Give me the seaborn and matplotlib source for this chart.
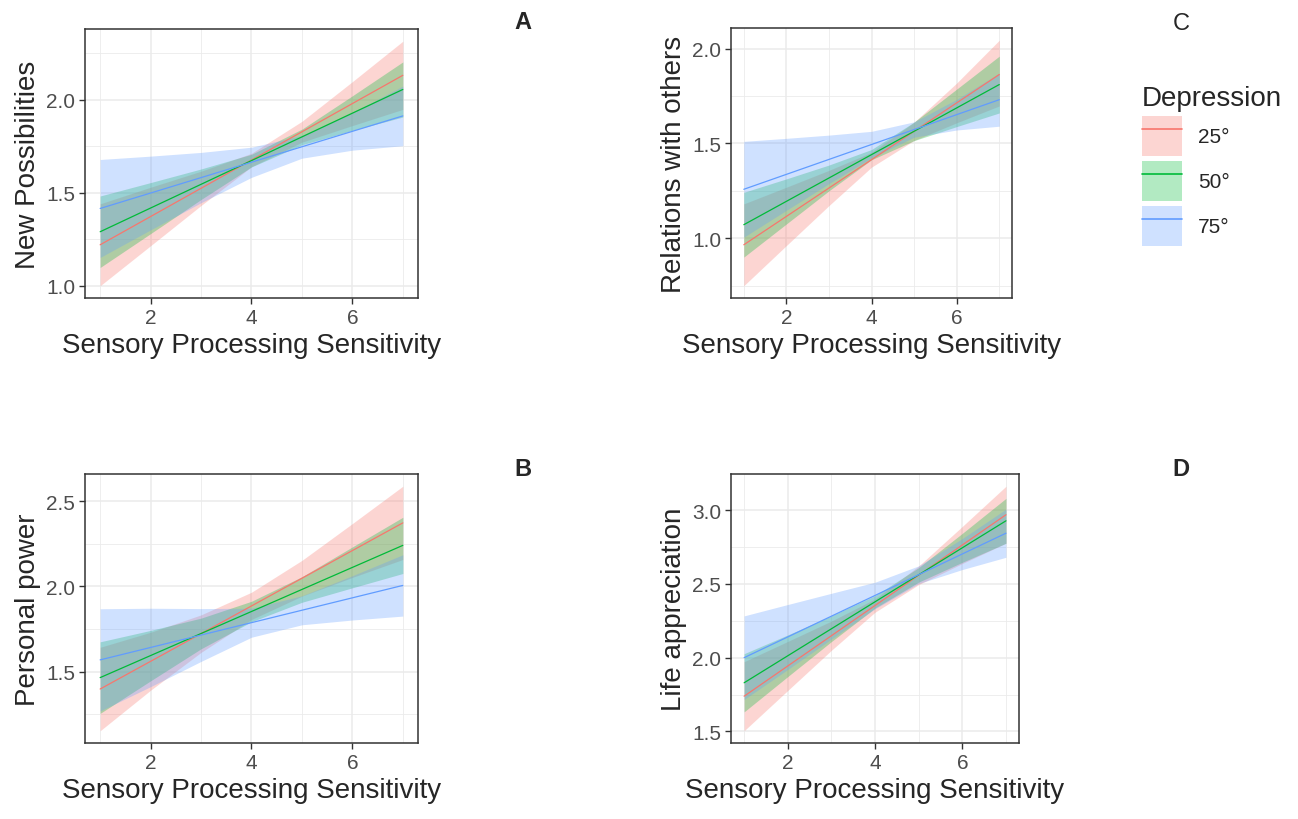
import matplotlib
matplotlib.use("Agg")
import matplotlib.pyplot as plt
from matplotlib.lines import Line2D
from matplotlib.patches import Patch
import pandas as pd
import seaborn as sns

# groups and colours (ggplot default hue)
levels = ["25°", "50°", "75°"]
colors = ["#F8766D", "#00BA38", "#619CFF"]

sps_ends = [1, 7]                    # fitted lines: value at SPS = 1 and 7
sps_grid = [1, 2, 3, 4, 5, 6, 7]     # confidence bands read at these SPS values

# A - New Possibilities
newposs_fit = {"25°": [1.22, 2.13], "50°": [1.29, 2.054], "75°": [1.415, 1.912]}
newposs_lo = {"25°": [1.00, 1.215, 1.431, 1.639, 1.771, 1.860, 1.947],
              "50°": [1.098, 1.280, 1.463, 1.638, 1.757, 1.834, 1.906],
              "75°": [1.152, 1.300, 1.446, 1.582, 1.685, 1.728, 1.752]}
newposs_hi = {"25°": [1.44, 1.529, 1.615, 1.711, 1.883, 2.096, 2.313],
              "50°": [1.482, 1.554, 1.627, 1.706, 1.841, 2.020, 2.202],
              "75°": [1.678, 1.696, 1.716, 1.744, 1.807, 1.930, 2.072]}

# C - Relations with others
relations_fit = {"25°": [0.965, 1.864], "50°": [1.071, 1.811], "75°": [1.258, 1.731]}
relations_lo = {"25°": [0.749, 0.961, 1.172, 1.375, 1.516, 1.609, 1.698],
                "50°": [0.900, 1.075, 1.250, 1.414, 1.515, 1.589, 1.661],
                "75°": [1.005, 1.147, 1.288, 1.424, 1.533, 1.571, 1.591]}
relations_hi = {"25°": [1.181, 1.269, 1.358, 1.453, 1.612, 1.819, 2.045],
                "50°": [1.242, 1.313, 1.386, 1.468, 1.613, 1.787, 1.961],
                "75°": [1.511, 1.527, 1.544, 1.564, 1.614, 1.733, 1.871]}

# B - Personal power
power_fit = {"25°": [1.398, 2.373], "50°": [1.465, 2.241], "75°": [1.569, 2.006]}
power_lo = {"25°": [1.153, 1.391, 1.613, 1.806, 1.943, 2.053, 2.158],
            "50°": [1.255, 1.446, 1.634, 1.793, 1.907, 1.992, 2.076],
            "75°": [1.269, 1.412, 1.560, 1.702, 1.775, 1.803, 1.826]}
power_hi = {"25°": [1.643, 1.731, 1.833, 1.966, 2.153, 2.369, 2.588],
            "50°": [1.675, 1.742, 1.814, 1.913, 2.057, 2.232, 2.406],
            "75°": [1.869, 1.872, 1.870, 1.872, 1.945, 2.063, 2.186]}

# D - Life appreciation
life_fit = {"25°": [1.739, 2.968], "50°": [1.830, 2.927], "75°": [2.0, 2.843]}
life_lo = {"25°": [1.505, 1.778, 2.050, 2.308, 2.495, 2.638, 2.775],
           "50°": [1.633, 1.872, 2.109, 2.336, 2.512, 2.646, 2.775],
           "75°": [1.717, 1.920, 2.126, 2.331, 2.502, 2.597, 2.680]}
life_hi = {"25°": [1.973, 2.110, 2.248, 2.398, 2.621, 2.889, 3.161],
           "50°": [2.027, 2.154, 2.283, 2.420, 2.610, 2.842, 3.079],
           "75°": [2.283, 2.360, 2.436, 2.511, 2.622, 2.807, 3.006]}

sns.set_theme(style="white")
plt.rcParams['font.family'] = ['Liberation Sans', 'DejaVu Sans']

fig = plt.figure(figsize=(12.98, 8.2), dpi=100)


def draw_panel(rect, fit, lo, hi, ylabel, yticks, yminor):
    ax = fig.add_axes(rect)
    for lev, col in zip(levels, colors):
        ax.fill_between(sps_grid, lo[lev], hi[lev], color=col, alpha=0.3,
                        linewidth=0, zorder=2)
    rows = []
    for lev in levels:
        for x, y in zip(sps_ends, fit[lev]):
            rows.append({"sps": x, "value": y, "Depression": lev})
    df = pd.DataFrame(rows)
    sns.lineplot(data=df, x="sps", y="value", hue="Depression", hue_order=levels,
                 palette=colors, linewidth=0.9, legend=False, ax=ax, zorder=3)
    ax.margins(x=0.05, y=0.05)
    ax.set_xticks([2, 4, 6])
    ax.set_xticks([1, 3, 5, 7], minor=True)
    ax.set_yticks(yticks)
    ax.set_yticks(yminor, minor=True)
    ax.set_yticklabels([f"{t:.1f}" for t in yticks])
    ax.grid(True, which="major", color="#EBEBEB", linewidth=1.1, zorder=0)
    ax.grid(True, which="minor", color="#EBEBEB", linewidth=0.6, zorder=0)
    ax.set_axisbelow(True)
    for sp in ax.spines.values():
        sp.set_color("#333333")
        sp.set_linewidth(1.1)
    ax.tick_params(which="major", length=4, width=1.0, color="#333333",
                   labelsize=15, labelcolor="#4D4D4D", pad=3,
                   bottom=True, left=True)
    ax.tick_params(which="minor", length=0)
    ax.set_xlabel("Sensory Processing Sensitivity", fontsize=20, labelpad=4)
    ax.set_ylabel(ylabel, fontsize=20, labelpad=4)
    return ax


draw_panel([0.0655, 0.6354, 0.2565, 0.328], newposs_fit, newposs_lo, newposs_hi,
           "New Possibilities", [1.0, 1.5, 2.0], [1.25, 1.75, 2.25])
draw_panel([0.5632, 0.6354, 0.2165, 0.3293], relations_fit, relations_lo, relations_hi,
           "Relations with others", [1.0, 1.5, 2.0], [0.75, 1.25, 1.75])
draw_panel([0.0655, 0.0927, 0.2565, 0.328], power_fit, power_lo, power_hi,
           "Personal power", [1.5, 2.0, 2.5], [1.25, 1.75, 2.25])
draw_panel([0.5632, 0.0927, 0.2219, 0.328], life_fit, life_lo, life_hi,
           "Life appreciation", [1.5, 2.0, 2.5, 3.0], [1.75, 2.25, 2.75])

# panel letters
fig.text(0.403, 0.972, "A", fontsize=17, fontweight="bold", ha="center", va="center")
fig.text(0.910, 0.971, "C", fontsize=17, ha="center", va="center")
fig.text(0.403, 0.427, "B", fontsize=17, fontweight="bold", ha="center", va="center")
fig.text(0.910, 0.427, "D", fontsize=17, fontweight="bold", ha="center", va="center")

# legend
handles = [(Patch(facecolor=c, alpha=0.3, edgecolor="none"), Line2D([], [], color=c, linewidth=1.2))
           for c in colors]
fig.legend(handles=handles, labels=levels, title="Depression", loc="upper left",
           bbox_to_anchor=(0.8655, 0.918), frameon=False, fontsize=15,
           title_fontsize=20, handlelength=1.92, handleheight=2.58,
           labelspacing=0.24, handletextpad=0.75, alignment="left")

fig.savefig("out.png", dpi=100)
